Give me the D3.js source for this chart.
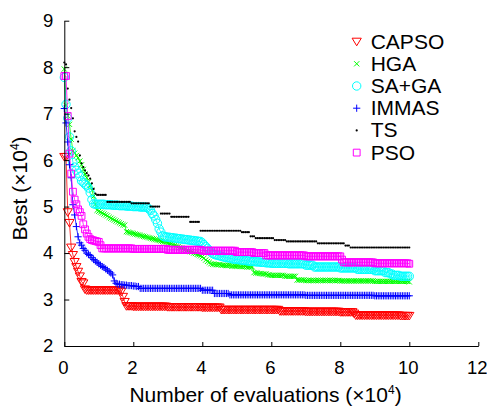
<!DOCTYPE html>
<html>
<head>
<meta charset="utf-8">
<script src="https://cdn.jsdelivr.net/npm/d3@7"></script>
<style>
  body { margin: 0; background: #fff; }
  text { font-family: "Liberation Sans", Arial, sans-serif; fill: #000; }
</style>
</head>
<body>
<div id="chart"></div>
<script>
// number of evaluations (x 10^4), one sample every 500 evaluations
const evals = d3.range(0, 201).map(i => i * 0.05);

// best value found so far (x 10^4)
const capso = [
  6.07,6.07,4.88,4.65,4.12,3.96,3.81,3.70,3.60,3.50,
  3.38,3.35,3.22,3.20,3.20,3.20,3.20,3.20,3.20,3.20,
  3.20,3.20,3.20,3.20,3.20,3.20,3.20,3.20,3.20,3.20,
  3.20,3.20,3.20,3.17,3.06,2.95,2.86,2.86,2.86,2.86,
  2.85,2.85,2.85,2.85,2.85,2.85,2.85,2.85,2.85,2.85,
  2.85,2.85,2.85,2.85,2.85,2.85,2.85,2.85,2.85,2.85,
  2.84,2.84,2.84,2.84,2.84,2.84,2.84,2.84,2.84,2.84,
  2.84,2.84,2.84,2.84,2.84,2.84,2.84,2.84,2.84,2.84,
  2.83,2.83,2.83,2.83,2.83,2.83,2.83,2.83,2.83,2.83,
  2.83,2.78,2.78,2.78,2.78,2.78,2.78,2.78,2.78,2.78,
  2.78,2.78,2.78,2.78,2.78,2.78,2.78,2.78,2.78,2.78,
  2.78,2.78,2.78,2.78,2.78,2.78,2.78,2.78,2.78,2.78,
  2.78,2.78,2.78,2.78,2.78,2.75,2.75,2.75,2.75,2.75,
  2.75,2.75,2.75,2.75,2.75,2.75,2.75,2.75,2.75,2.75,
  2.74,2.74,2.74,2.74,2.74,2.74,2.74,2.74,2.74,2.74,
  2.74,2.74,2.74,2.74,2.74,2.74,2.74,2.74,2.74,2.74,
  2.73,2.73,2.73,2.73,2.73,2.73,2.73,2.73,2.70,2.66,
  2.66,2.66,2.66,2.66,2.66,2.66,2.66,2.66,2.66,2.66,
  2.66,2.66,2.66,2.66,2.66,2.66,2.66,2.66,2.66,2.66,
  2.66,2.66,2.66,2.66,2.66,2.65,2.65,2.65,2.65,2.65,
  2.65
];

const hga = [
  7.96,7.18,6.95,6.77,6.45,6.20,6.15,6.10,6.05,5.98,
  5.90,5.80,5.70,5.62,5.53,5.45,5.35,5.22,5.05,4.92,
  4.90,4.88,4.86,4.84,4.82,4.80,4.77,4.75,4.73,4.71,
  4.69,4.67,4.65,4.63,4.61,4.60,4.46,4.45,4.44,4.43,
  4.42,4.41,4.40,4.39,4.38,4.37,4.36,4.35,4.34,4.33,
  4.32,4.31,4.30,4.29,4.28,4.27,4.26,4.25,4.24,4.23,
  4.22,4.21,4.20,4.18,4.17,4.15,4.14,4.12,4.11,4.09,
  4.08,4.06,4.05,4.03,4.02,4.00,3.99,3.97,3.96,3.94,
  3.92,3.89,3.85,3.82,3.80,3.77,3.76,3.76,3.75,3.75,
  3.75,3.74,3.74,3.74,3.73,3.73,3.73,3.72,3.72,3.72,
  3.72,3.72,3.71,3.71,3.71,3.71,3.70,3.70,3.70,3.70,
  3.58,3.57,3.57,3.56,3.56,3.55,3.55,3.55,3.53,3.53,
  3.52,3.52,3.52,3.52,3.52,3.52,3.52,3.52,3.50,3.50,
  3.50,3.50,3.50,3.50,3.50,3.42,3.42,3.42,3.42,3.42,
  3.41,3.41,3.41,3.41,3.41,3.41,3.41,3.41,3.41,3.41,
  3.41,3.41,3.41,3.41,3.41,3.41,3.41,3.41,3.41,3.41,
  3.40,3.40,3.40,3.40,3.40,3.40,3.40,3.40,3.40,3.40,
  3.40,3.40,3.40,3.40,3.40,3.40,3.40,3.40,3.40,3.40,
  3.39,3.39,3.39,3.39,3.39,3.39,3.39,3.39,3.39,3.39,
  3.39,3.39,3.39,3.39,3.39,3.39,3.39,3.39,3.39,3.39,
  3.38
];

const saga = [
  7.78,7.20,6.90,6.50,6.20,5.95,5.85,5.78,5.72,5.65,
  5.55,5.52,5.48,5.45,5.40,5.30,5.15,5.06,5.05,5.05,
  5.05,5.05,5.05,5.05,5.04,5.04,5.04,5.04,5.03,5.03,
  5.03,5.03,5.02,5.02,5.02,5.02,5.01,5.01,5.01,5.01,
  5.00,5.00,5.00,5.00,4.99,4.99,4.99,4.99,4.98,4.95,
  4.92,4.85,4.80,4.72,4.64,4.52,4.45,4.37,4.35,4.35,
  4.34,4.34,4.33,4.33,4.32,4.32,4.31,4.31,4.30,4.30,
  4.29,4.29,4.28,4.28,4.27,4.27,4.26,4.26,4.25,4.25,
  4.22,4.18,4.14,4.10,4.06,4.02,3.99,3.97,3.96,3.95,
  3.94,3.93,3.92,3.91,3.90,3.90,3.89,3.88,3.87,3.87,
  3.86,3.86,3.85,3.85,3.84,3.84,3.83,3.83,3.82,3.82,
  3.82,3.81,3.81,3.81,3.80,3.80,3.80,3.79,3.79,3.79,
  3.78,3.78,3.78,3.78,3.78,3.78,3.78,3.78,3.78,3.78,
  3.77,3.77,3.77,3.77,3.77,3.77,3.77,3.77,3.77,3.77,
  3.74,3.74,3.74,3.74,3.74,3.70,3.70,3.70,3.70,3.70,
  3.70,3.70,3.70,3.70,3.70,3.70,3.70,3.70,3.70,3.70,
  3.68,3.68,3.68,3.68,3.68,3.68,3.68,3.68,3.68,3.68,
  3.65,3.65,3.65,3.65,3.65,3.65,3.65,3.65,3.65,3.65,
  3.62,3.62,3.62,3.62,3.62,3.62,3.58,3.58,3.58,3.55,
  3.55,3.52,3.52,3.52,3.52,3.50,3.50,3.50,3.50,3.50,
  3.50
];

const immas = [
  7.11,6.80,6.39,5.90,5.62,5.04,4.82,4.57,4.35,4.22,
  4.17,4.10,4.06,4.00,3.97,3.95,3.90,3.86,3.83,3.80,
  3.77,3.74,3.71,3.69,3.66,3.63,3.60,3.57,3.53,3.40,
  3.35,3.33,3.33,3.32,3.32,3.31,3.31,3.30,3.30,3.30,
  3.29,3.29,3.28,3.28,3.24,3.24,3.24,3.24,3.24,3.24,
  3.24,3.24,3.24,3.24,3.24,3.24,3.24,3.24,3.24,3.24,
  3.24,3.24,3.24,3.24,3.24,3.24,3.24,3.24,3.24,3.24,
  3.24,3.24,3.24,3.24,3.24,3.24,3.24,3.24,3.24,3.24,
  3.20,3.20,3.20,3.20,3.20,3.20,3.20,3.13,3.13,3.13,
  3.13,3.13,3.13,3.13,3.13,3.13,3.10,3.10,3.10,3.10,
  3.10,3.10,3.10,3.10,3.10,3.10,3.10,3.10,3.10,3.10,
  3.10,3.10,3.10,3.10,3.10,3.10,3.10,3.10,3.10,3.10,
  3.10,3.10,3.10,3.10,3.10,3.10,3.10,3.10,3.10,3.10,
  3.10,3.10,3.10,3.10,3.10,3.10,3.10,3.10,3.10,3.10,
  3.09,3.09,3.09,3.09,3.09,3.09,3.09,3.09,3.09,3.09,
  3.09,3.09,3.09,3.09,3.09,3.09,3.09,3.09,3.09,3.09,
  3.09,3.09,3.09,3.09,3.09,3.09,3.09,3.09,3.09,3.09,
  3.09,3.09,3.09,3.09,3.09,3.09,3.09,3.09,3.09,3.09,
  3.08,3.08,3.08,3.08,3.08,3.08,3.08,3.08,3.08,3.08,
  3.08,3.08,3.08,3.08,3.08,3.08,3.08,3.08,3.08,3.08,
  3.08
];

const ts = [
  8.10,8.06,7.54,7.30,7.12,6.90,6.62,6.50,6.40,6.10,
  5.93,5.85,5.78,5.72,5.67,5.60,5.50,5.38,5.28,5.25,
  5.25,5.25,5.25,5.25,5.25,5.10,5.10,5.10,5.10,5.10,
  5.10,5.10,5.10,5.10,5.10,5.10,5.10,5.10,5.10,5.07,
  5.07,5.07,5.07,5.07,5.07,5.07,5.07,5.07,5.07,5.07,
  5.00,5.00,5.00,5.00,5.00,5.00,4.85,4.85,4.85,4.85,
  4.85,4.85,4.78,4.78,4.78,4.78,4.78,4.78,4.78,4.78,
  4.78,4.78,4.78,4.67,4.67,4.67,4.67,4.67,4.67,4.48,
  4.48,4.48,4.48,4.48,4.48,4.48,4.48,4.48,4.48,4.48,
  4.48,4.48,4.48,4.48,4.48,4.48,4.48,4.48,4.48,4.48,
  4.48,4.48,4.48,4.45,4.45,4.45,4.45,4.45,4.36,4.36,
  4.36,4.32,4.32,4.32,4.32,4.32,4.32,4.32,4.32,4.32,
  4.32,4.32,4.28,4.28,4.28,4.28,4.28,4.28,4.28,4.25,
  4.25,4.25,4.25,4.25,4.25,4.25,4.25,4.25,4.25,4.25,
  4.25,4.25,4.25,4.25,4.25,4.25,4.25,4.21,4.21,4.21,
  4.21,4.21,4.21,4.21,4.21,4.21,4.21,4.21,4.21,4.21,
  4.21,4.21,4.21,4.16,4.16,4.16,4.12,4.12,4.12,4.12,
  4.12,4.12,4.12,4.12,4.12,4.12,4.12,4.12,4.12,4.12,
  4.12,4.12,4.12,4.12,4.12,4.12,4.12,4.12,4.12,4.12,
  4.12,4.12,4.12,4.12,4.12,4.12,4.12,4.12,4.12,4.12,
  4.12
];

const pso = [
  7.81,7.81,6.95,6.14,5.71,5.32,5.15,5.05,4.94,4.88,
  4.80,4.62,4.51,4.42,4.35,4.30,4.28,4.27,4.26,4.25,
  4.24,4.17,4.10,4.10,4.10,4.10,4.10,4.10,4.10,4.10,
  4.10,4.10,4.10,4.10,4.10,4.10,4.10,4.10,4.10,4.10,
  4.09,4.09,4.09,4.09,4.09,4.09,4.09,4.09,4.09,4.09,
  4.09,4.09,4.09,4.09,4.09,4.09,4.09,4.09,4.09,4.09,
  4.07,4.07,4.07,4.07,4.07,4.07,4.07,4.07,4.07,4.07,
  4.07,4.07,4.07,4.07,4.07,4.07,4.07,4.07,4.07,4.07,
  4.05,4.05,4.05,4.05,4.05,4.05,4.05,4.05,4.05,4.05,
  4.05,4.05,4.05,4.05,4.05,4.05,4.05,4.05,4.05,4.05,
  4.02,4.02,4.02,4.02,4.02,4.02,4.02,4.02,4.02,4.02,
  4.00,4.00,4.00,4.00,4.00,4.00,4.00,3.95,3.95,3.95,
  3.95,3.95,3.95,3.95,3.95,3.95,3.95,3.95,3.95,3.95,
  3.95,3.95,3.95,3.95,3.95,3.95,3.95,3.95,3.95,3.95,
  3.93,3.93,3.93,3.93,3.93,3.93,3.93,3.93,3.93,3.93,
  3.93,3.93,3.93,3.93,3.93,3.93,3.93,3.93,3.93,3.93,
  3.93,3.86,3.80,3.80,3.80,3.80,3.80,3.80,3.80,3.80,
  3.80,3.80,3.80,3.80,3.80,3.80,3.80,3.80,3.80,3.80,
  3.78,3.78,3.78,3.78,3.78,3.78,3.78,3.78,3.78,3.78,
  3.78,3.78,3.78,3.78,3.78,3.78,3.78,3.78,3.78,3.78,
  3.77
];

const names = ["CAPSO", "HGA", "SA+GA", "IMMAS", "TS", "PSO"];
const colors = ["#ff0000", "#00ff00", "#00ffff", "#0000ff", "#000000", "#ff00ff"];
const xTicks = [0, 2, 4, 6, 8, 10, 12];
const yTicks = [2, 3, 4, 5, 6, 7, 8, 9];

const width = 487, height = 408;

// plot box in page pixels
let x = d3.scaleLinear().domain([0, 12]).range([64.3, 478.3]);
let y = d3.scaleLinear().domain([2, 9]).range([346, 20.7]);

// marker shapes, centred on 0,0
const markers = {
  "CAPSO": "M-4.6,-3.4L4.6,-3.4L0,4.2Z",
  "HGA":   "M-2.6,-2.6L2.6,2.6M-2.6,2.6L2.6,-2.6",
  "SA+GA": d3.arc()({innerRadius: 0, outerRadius: 4.2, startAngle: 0, endAngle: 2 * Math.PI}),
  "IMMAS": "M-3.6,0H3.6M0,-3.6V3.6",
  "TS":    d3.arc()({innerRadius: 0, outerRadius: 1.1, startAngle: 0, endAngle: 2 * Math.PI}),
  "PSO":   "M-3.4,-3.4H3.4V3.4H-3.4Z"
};

let svg = d3.select("#chart").append("svg")
  .attr("width", width)
  .attr("height", height);

let allSeries = [capso, hga, saga, immas, ts, pso];

let line = d3.line()
  .x((d, i) => x(evals[i]))
  .y(d => y(d));

allSeries.forEach((values, k) => {
  let g = svg.append("g").attr("class", "series");
  let isDot = names[k] === "TS";
  g.append("path")
    .datum(values)
    .attr("fill", "none")
    .attr("stroke", colors[k])
    .attr("stroke-width", isDot ? 0 : 0.8)
    .attr("d", line);
  g.selectAll("path.m")
    .data(values)
    .join("path")
    .attr("class", "m")
    .attr("transform", (d, i) => "translate(" + x(evals[i]) + "," + y(d) + ")")
    .attr("d", markers[names[k]])
    .attr("fill", isDot ? colors[k] : "none")
    .attr("stroke", isDot ? "none" : colors[k])
    .attr("stroke-width", 1);
});

// axes, ticks pointing into the plot
let xAxis = d3.axisBottom(x).tickValues(xTicks).tickFormat(d3.format("d"))
  .tickSizeInner(-4).tickSizeOuter(0).tickPadding(15);
let yAxis = d3.axisLeft(y).tickValues(yTicks).tickFormat(d3.format("d"))
  .tickSizeInner(-5).tickSizeOuter(0).tickPadding(11);

let gx = svg.append("g").attr("transform", "translate(0," + y(2) + ")").call(xAxis);
let gy = svg.append("g").attr("transform", "translate(" + x(0) + ",0)").call(yAxis);

[gx, gy].forEach(g => {
  g.selectAll("text").style("font-size", "18.5px").attr("fill", "#000");
  g.selectAll("line, path").attr("stroke", "#000");
});
gx.selectAll("text").attr("dx", -1.5);

// axis titles
let xt = svg.append("text")
  .attr("x", 265.5)
  .attr("y", 402)
  .attr("text-anchor", "middle")
  .style("font-size", "21px")
  .text("Number of evaluations (\u00d710");
xt.append("tspan").attr("dy", -8).style("font-size", "12px").text("4");
xt.append("tspan").attr("dy", 8).text(")");

let yt = svg.append("text")
  .attr("transform", "translate(26.5,188.5) rotate(-90)")
  .attr("text-anchor", "middle")
  .style("font-size", "21px")
  .text("Best (\u00d710");
yt.append("tspan").attr("dy", -8).style("font-size", "12px").text("4");
yt.append("tspan").attr("dy", 8).text(")");

// legend
let legend = svg.append("g").attr("transform", "translate(356.7,41.6)");
names.forEach((name, k) => {
  let item = legend.append("g").attr("transform", "translate(0," + k * 22.2 + ")");
  item.append("path")
    .attr("d", markers[name])
    .attr("fill", name === "TS" ? colors[k] : "none")
    .attr("stroke", name === "TS" ? "none" : colors[k])
    .attr("stroke-width", 1);
  item.append("text")
    .attr("x", 14)
    .attr("y", 6.9)
    .style("font-size", "21px")
    .text(name);
});
</script>
</body>
</html>
